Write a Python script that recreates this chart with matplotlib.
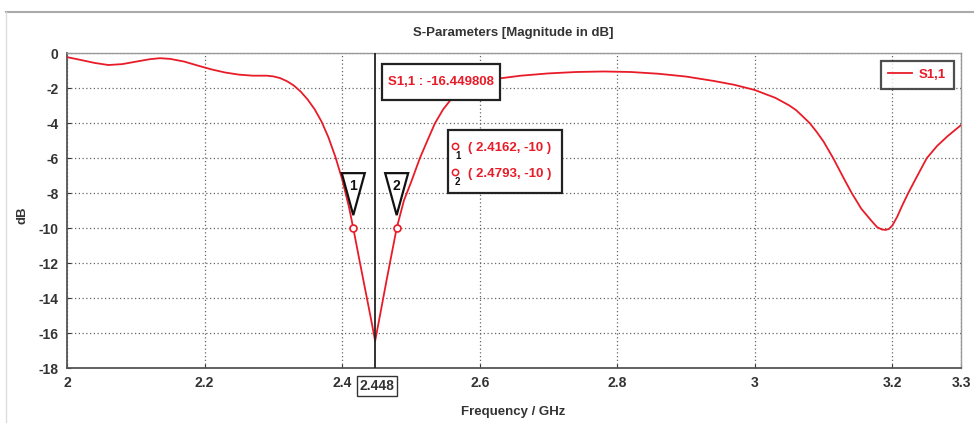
import matplotlib
matplotlib.use('Agg')
import matplotlib.pyplot as plt
import matplotlib.transforms as mtransforms
from matplotlib.patches import Polygon, Rectangle
from matplotlib.lines import Line2D

# S1,1 magnitude
freq_ghz = [2.00, 2.02, 2.04, 2.06, 2.08, 2.10, 2.12, 2.135, 2.15, 2.17,
            2.19, 2.21, 2.23, 2.25, 2.27, 2.29, 2.30, 2.31, 2.32, 2.33,
            2.34, 2.35, 2.36, 2.37, 2.38, 2.39, 2.40, 2.41, 2.4162, 2.425,
            2.435, 2.442, 2.448, 2.455, 2.465, 2.4793, 2.49, 2.50, 2.513, 2.525,
            2.535, 2.547, 2.557, 2.57, 2.59, 2.61, 2.63, 2.66, 2.70, 2.74,
            2.78, 2.82, 2.86, 2.90, 2.94, 2.97, 3.00, 3.02, 3.03, 3.05,
            3.06, 3.07, 3.08, 3.09, 3.10, 3.114, 3.13, 3.141, 3.155, 3.17,
            3.178, 3.185, 3.19, 3.195, 3.20, 3.207, 3.215, 3.223, 3.235, 3.25,
            3.265, 3.28, 3.30]
s11_db = [-0.22, -0.38, -0.55, -0.67, -0.62, -0.48, -0.34, -0.28, -0.32, -0.47,
          -0.70, -0.92, -1.10, -1.22, -1.28, -1.28, -1.32, -1.42, -1.60, -1.85,
          -2.20, -2.65, -3.20, -3.90, -4.80, -5.90, -7.20, -8.80, -10.0, -11.8,
          -13.8, -15.2, -16.45, -15.0, -12.9, -10.0, -8.4, -7.4, -6.0, -4.9,
          -4.0, -3.2, -2.7, -2.25, -1.85, -1.60, -1.43, -1.28, -1.15, -1.07,
          -1.04, -1.07, -1.17, -1.33, -1.58, -1.80, -2.10, -2.40, -2.55, -2.98,
          -3.25, -3.62, -4.00, -4.50, -5.05, -6.0, -7.2, -8.0, -8.9, -9.6,
          -9.95, -10.08, -10.1, -10.05, -9.85, -9.35, -8.65, -8.0, -7.1, -6.0,
          -5.3, -4.75, -4.1]

# markers
min_freq = 2.448
min_value = -16.449808
marker_freq = [2.4162, 2.4793]
marker_db = [-10, -10]
marker_ids = ['1', '2']

x_ticks = [2, 2.2, 2.4, 2.6, 2.8, 3, 3.2, 3.3]
x_tick_labels = ['2', '2.2', '2.4', '2.6', '2.8', '3', '3.2', '3.3']
y_ticks = [0, -2, -4, -6, -8, -10, -12, -14, -16, -18]

RED = '#e81c28'
plt.rcParams['font.family'] = ['Liberation Sans', 'DejaVu Sans']
FS = 9.5

fig = plt.figure(figsize=(9.74, 4.23), dpi=100)
ax = fig.add_axes([0.0688, 0.130, 0.918, 0.744])

ax.plot(freq_ghz, s11_db, color=RED, linewidth=1.3, label='S1,1', zorder=3)
ax.set_xlim(2, 3.3)
ax.set_ylim(-18, 0)
ax.set_xticks(x_ticks)
ax.set_xticklabels(x_tick_labels)
ax.set_yticks(y_ticks)
ax.set_yticklabels([str(v) for v in y_ticks])
ax.tick_params(length=3, direction='in', labelsize=10, pad=6, colors='#333333')
for lab in ax.get_xticklabels() + ax.get_yticklabels():
    lab.set_fontweight('bold')

ax.grid(True, color='#666666', linestyle=(0, (1, 2)), linewidth=0.9)
for side in ['left', 'bottom']:
    ax.spines[side].set_color('#555555')
    ax.spines[side].set_linewidth(1.3)
for side in ['top', 'right']:
    ax.spines[side].set_color('#999999')
    ax.spines[side].set_linewidth(1.0)

# vertical marker at the minimum
ax.axvline(min_freq, color='#222222', linewidth=1.3, zorder=4)
ax.annotate(f'{min_freq:g}', xy=(min_freq, 0), xycoords=('data', 'axes fraction'),
            xytext=(1.5, -13), textcoords='offset points', ha='center', va='center',
            fontsize=10, fontweight='bold', color='#333333',
            bbox=dict(boxstyle='square,pad=0.2', fc='white', ec='#333333', lw=1.0))

# minimum value box
ax.add_patch(Rectangle((0.352, 0.852), 0.132, 0.114, transform=ax.transAxes,
                       fc='white', ec='#222222', lw=1.6, zorder=6))
ax.text(0.418, 0.909, f'S1,1 : {min_value:.6f}', transform=ax.transAxes,
        ha='center', va='center', color=RED, fontsize=FS, fontweight='bold', zorder=7)

# -10 dB crossing markers with triangle flags
ax.plot(marker_freq, marker_db, 'o', mfc='white', mec=RED, ms=5, mew=1.2, zorder=5)
for f, v, mid in zip(marker_freq, marker_db, marker_ids):
    tr = fig.dpi_scale_trans + mtransforms.ScaledTranslation(f, v, ax.transData)
    tri = Polygon([(0, 0.13), (-0.115, 0.55), (0.115, 0.55)], closed=True,
                  transform=tr, fc='white', ec='#111111', lw=1.6, zorder=6)
    ax.add_patch(tri)
    ax.text(0, 0.42, mid, transform=tr, ha='center', va='center',
            fontsize=10, fontweight='bold', color='#111111', zorder=7)

# marker value box
ax.add_patch(Rectangle((0.426, 0.556), 0.128, 0.200, transform=ax.transAxes,
                       fc='white', ec='#222222', lw=1.6, zorder=6))
row_y = [0.699, 0.616]
for (f, v, mid), ry in zip(zip(marker_freq, marker_db, marker_ids), row_y):
    ax.plot([0.434], [ry + 0.008], 'o', mfc='white', mec=RED, ms=4.5, mew=1.1,
            transform=ax.transAxes, zorder=7)
    ax.text(0.437, ry - 0.024, mid, transform=ax.transAxes, ha='center', va='center',
            fontsize=7, fontweight='bold', color='#111111', zorder=7)
    ax.text(0.449, ry, f'( {f}, {v} )', transform=ax.transAxes, ha='left',
            va='center', fontsize=FS, fontweight='bold', color=RED, zorder=7)

leg = ax.legend(loc='upper right', borderaxespad=0.55, fancybox=False,
                handlelength=1.8, handletextpad=0.5, borderpad=0.6,
                prop={'size': FS, 'weight': 'bold'}, labelcolor=RED)
leg.get_frame().set_edgecolor('#222222')
leg.get_frame().set_linewidth(1.6)
leg.set_zorder(8)

fig.text(513 / 974, 1 - 33 / 423, 'S-Parameters [Magnitude in dB]', ha='center',
         va='center', fontsize=FS, fontweight='bold', color='#333333')
fig.text(513 / 974, 1 - 412 / 423, 'Frequency / GHz', ha='center', va='center',
         fontsize=FS, fontweight='bold', color='#333333')
fig.text(22 / 974, 1 - 215 / 423, 'dB', ha='center', va='center', rotation=90,
         fontsize=FS, fontweight='bold', color='#333333')

# outer frame of the plot window
fig.add_artist(Line2D([6 / 974, 1], [1 - 12 / 423, 1 - 12 / 423], color='#aaaaaa', lw=1.5))
fig.add_artist(Line2D([6 / 974, 6 / 974], [0, 1 - 12 / 423], color='#dddddd', lw=1.0))

fig.savefig('out.png', dpi=100)
